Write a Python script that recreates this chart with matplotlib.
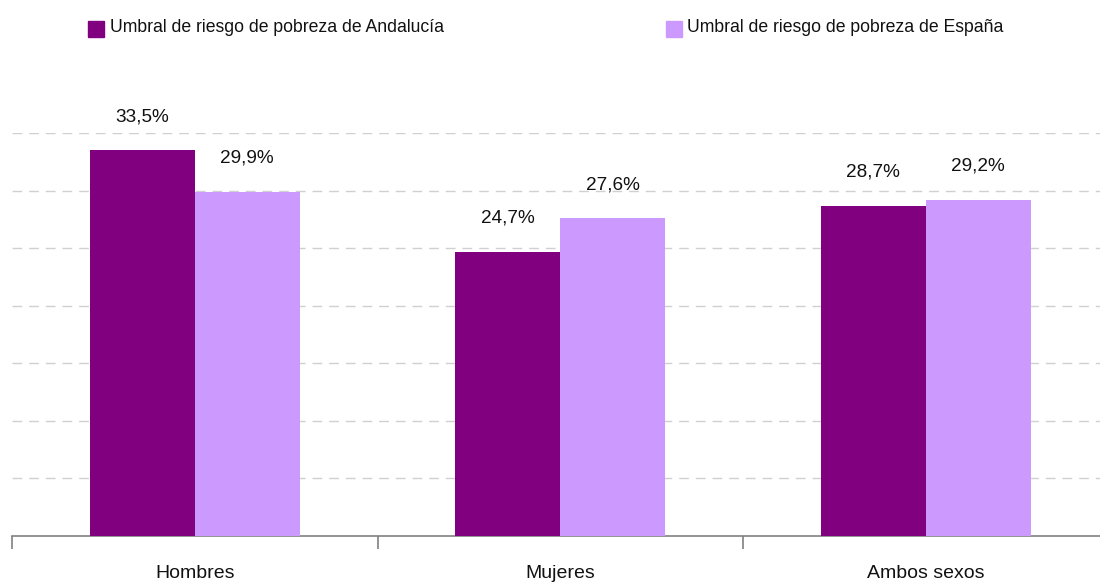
import matplotlib
matplotlib.use('Agg')
import matplotlib.pyplot as plt
from matplotlib.patches import Rectangle

categories = ['Hombres', 'Mujeres', 'Ambos sexos']
andalucia = [33.5, 24.7, 28.7]
espana = [29.9, 27.6, 29.2]
series_names = ['Umbral de riesgo de pobreza de Andalucía',
                'Umbral de riesgo de pobreza de España']
colors = ['#800080', '#CC99FF']

plt.rcParams['font.family'] = ['Liberation Sans', 'DejaVu Sans']

W, H = 1100, 586
fig = plt.figure(figsize=(W / 100, H / 100), dpi=100)
# axes spans three category slots of ~365 px starting at x=12
ax = fig.add_axes([12 / W, (H - 536) / H, 1096.5 / W, (536 - 133) / H])

x = range(len(categories))
bw = 0.287
b1 = ax.bar([i - bw / 2 for i in x], andalucia, width=bw, color=colors[0], zorder=3)
b2 = ax.bar([i + bw / 2 for i in x], espana, width=bw, color=colors[1], zorder=3)

for bars, vals in ((b1, andalucia), (b2, espana)):
    for r, v in zip(bars, vals):
        ax.annotate(('%.1f%%' % v).replace('.', ','),
                    (r.get_x() + r.get_width() / 2, v),
                    xytext=(0, 24), textcoords='offset points',
                    ha='center', va='center', fontsize=13.7, color='#111111',
                    annotation_clip=False)

ax.set_xlim(-0.5, 2.5)
ax.set_ylim(0, 35)
ax.set_yticks([5, 10, 15, 20, 25, 30, 35])
ax.yaxis.grid(True, color='#D0D0D0', linestyle=(0, (7, 5)), linewidth=1)
ax.tick_params(axis='y', left=False, labelleft=False)
ax.set_axisbelow(True)

ax.set_xticks([-0.5, 0.5, 1.5, 2.5])
ax.set_xticklabels([])
ax.set_xticks(list(x), minor=True)
ax.set_xticklabels(categories, minor=True, fontsize=14, color='#111111')
ax.tick_params(axis='x', which='major', direction='out', length=9, color='#808080', width=1.2)
ax.tick_params(axis='x', which='minor', length=0, pad=21)

for s in ('top', 'right', 'left'):
    ax.spines[s].set_visible(False)
ax.spines['bottom'].set_color('#808080')
ax.spines['bottom'].set_linewidth(1.2)

# legend across the top
for sx, tx, name, c in ((88, 110, series_names[0], colors[0]),
                        (666, 687, series_names[1], colors[1])):
    fig.patches.append(Rectangle((sx / W, (H - 37) / H), 16 / W, 16 / H,
                                 transform=fig.transFigure, color=c))
    fig.text(tx / W, (H - 27) / H, name, fontsize=12.7, va='center', ha='left', color='#111111')

fig.savefig('out.png', dpi=100)
